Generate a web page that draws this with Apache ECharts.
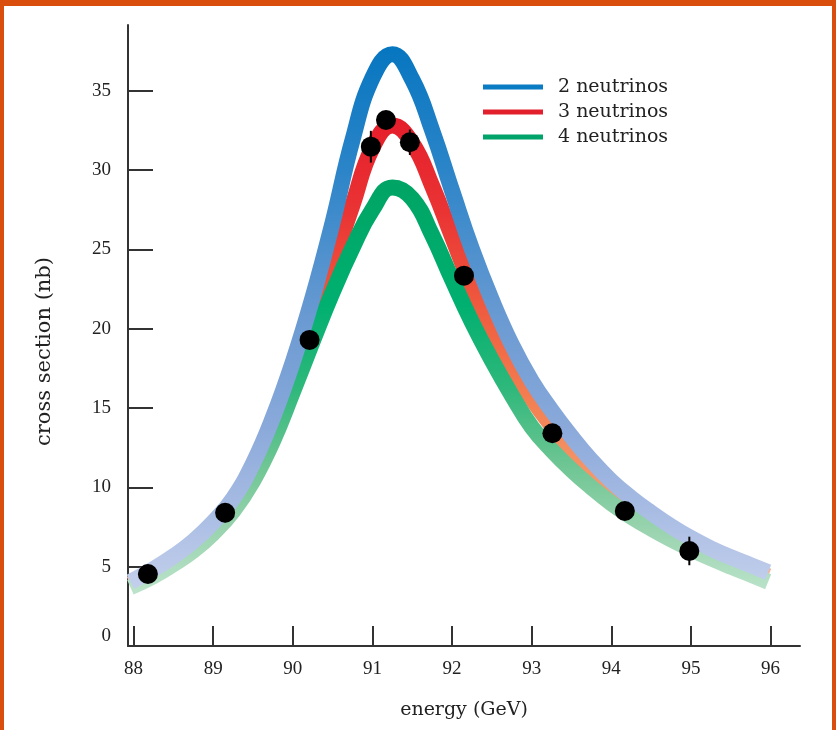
<!DOCTYPE html>
<html>
<head>
<meta charset="utf-8">
<title>Z resonance and number of neutrinos</title>
<script src="https://cdn.jsdelivr.net/npm/echarts@6/dist/echarts.min.js"></script>
<style>
  html, body { margin: 0; padding: 0; }
  body { width: 836px; height: 730px; background: #d94e0c; position: relative; overflow: hidden; }
  .paper { position: absolute; left: 4px; top: 6px; right: 4px; bottom: 0; background: #fff; }
  #chart { position: absolute; left: 0; top: 0; width: 836px; height: 730px; }
</style>
</head>
<body>
<div class="paper"></div>
<div id="chart"></div>
<script>
const energy = [87.96, 88.25, 88.5, 88.75, 89.0, 89.25, 89.5, 89.75, 90.0, 90.25, 90.5, 90.75, 91.0,
  91.25, 91.5, 91.75, 92.0, 92.25, 92.5, 92.75, 93.0, 93.25, 93.5, 93.75, 94.0, 94.25, 94.5,
  94.75, 95.0, 95.25, 95.5, 95.75, 95.97]
// cross section (nb) for each hypothesis
const nu2 = [4.05, 4.85, 5.65, 6.6, 7.8, 9.3, 11.5, 14.4, 17.9, 22.0, 26.7, 31.9, 35.8,
  37.3, 35.7, 32.5, 28.7, 25.0, 21.8, 19.0, 16.7, 14.85, 13.2, 11.7, 10.4, 9.33, 8.4,
  7.55, 6.8, 6.15, 5.6, 5.1, 4.65]
const nu3 = [3.9, 4.7, 5.5, 6.4, 7.5, 9.0, 11.0, 13.7, 17.0, 20.5, 24.1, 27.8, 31.4,
  32.8, 31.7, 29.0, 25.8, 22.6, 19.9, 17.6, 15.6, 13.9, 12.4, 11.05, 9.9, 8.9, 8.0,
  7.2, 6.5, 5.9, 5.35, 4.85, 4.4]
const nu4 = [3.7, 4.4, 5.15, 6.0, 7.1, 8.5, 10.4, 12.9, 16.0, 19.2, 22.3, 25.1, 27.5,
  28.9, 28.2, 25.9, 23.1, 20.4, 18.0, 15.8, 13.8, 12.35, 11.1, 10.0, 9.0, 8.15, 7.4,
  6.72, 6.1, 5.53, 5.0, 4.5, 4.05]

// measured points
const pointEnergy = [88.18, 89.15, 90.21, 90.98, 91.17, 91.47, 92.15, 93.26, 94.17, 94.98]
const pointSigma = [4.54, 8.40, 19.29, 31.47, 33.15, 31.75, 23.34, 13.41, 8.51, 5.99]
const pointError = [0.5, 0.6, 0.5, 1.0, 0.5, 0.8, 0.5, 0.5, 0.4, 0.9]

const xTicks = [88, 89, 90, 91, 92, 93, 94, 95, 96]
const yTicks = [0, 5, 10, 15, 20, 25, 30, 35]

const serif = 'Liberation Serif'
const wideSerif = 'DejaVu Serif'

function grad(stops) {
  return new echarts.graphic.LinearGradient(0, 0, 0, 1,
    stops.map(s => ({offset: s[0], color: s[1]})))
}

function band(name, values, stops, z) {
  return {
    name: name,
    type: 'line',
    data: energy.map((e, i) => [e, values[i]]),
    smooth: 0.45,
    symbol: 'none',
    z: z,
    lineStyle: {width: 16, color: grad(stops), cap: 'butt'}
  }
}

const chart = echarts.init(document.getElementById('chart'))

chart.setOption({
  animation: false,
  grid: {left: 128, right: 36, top: 25, bottom: 84, containLabel: false},
  legend: {
    orient: 'vertical',
    left: 483,
    top: 77,
    padding: 0,
    itemWidth: 60,
    itemHeight: 5,
    itemGap: 5,
    icon: 'rect',
    textStyle: {fontFamily: wideSerif, fontSize: 19, color: '#222', lineHeight: 20, padding: [0, 0, 0, 10]},
    data: [
      {name: '2 neutrinos', itemStyle: {color: '#0a7cc4'}},
      {name: '3 neutrinos', itemStyle: {color: '#e2202c'}},
      {name: '4 neutrinos', itemStyle: {color: '#00a46a'}}
    ]
  },
  xAxis: {
    type: 'value',
    min: 87.93,
    max: 96.37,
    name: 'energy (GeV)',
    nameLocation: 'middle',
    nameGap: 55,
    nameTextStyle: {fontFamily: wideSerif, fontSize: 19, color: '#222'},
    axisLine: {lineStyle: {color: '#333', width: 2}},
    axisTick: {inside: true, length: 20, customValues: xTicks, lineStyle: {color: '#333', width: 2}},
    axisLabel: {customValues: xTicks, margin: 14, fontFamily: serif, fontSize: 19, color: '#222'},
    splitLine: {show: false}
  },
  yAxis: {
    type: 'value',
    min: 0,
    max: 39.14,
    name: 'cross section (nb)',
    nameLocation: 'middle',
    nameGap: 73,
    nameTextStyle: {fontFamily: wideSerif, fontSize: 21, color: '#222', padding: [0, 32, 0, 0]},
    axisLine: {show: true, lineStyle: {color: '#333', width: 2}},
    axisTick: {show: true, inside: true, length: 25, customValues: yTicks, lineStyle: {color: '#333', width: 2}},
    axisLabel: {
      customValues: yTicks,
      margin: 17,
      fontFamily: serif,
      fontSize: 19,
      color: '#222',
      formatter: v => v === 0 ? '{z|0}' : String(v),
      rich: {z: {fontFamily: serif, fontSize: 19, color: '#222', padding: [0, 0, 20, 0]}}
    },
    splitLine: {show: false}
  },
  series: [
    band('3 neutrinos', nu3, [[0, '#e51d2b'], [0.2, '#ea3434'], [0.4, '#ef5b3f'], [0.6, '#f38052'], [0.8, '#f59c70'], [1, '#f7b89b']], 2),
    band('4 neutrinos', nu4, [[0, '#00a464'], [0.3, '#00b070'], [0.5, '#2eb87b'], [0.68, '#6cc592'], [0.85, '#9bd4b0'], [1, '#bde4cb']], 3),
    band('2 neutrinos', nu2, [[0, '#0676c0'], [0.22, '#2a84c8'], [0.5, '#6a9ad2'], [0.7, '#8aa9da'], [0.87, '#abbee4'], [1, '#c4d0ec']], 4),
    {
      name: 'errors',
      type: 'custom',
      z: 5,
      data: pointEnergy.map((e, i) => [e, pointSigma[i], pointError[i]]),
      renderItem: function (params, api) {
        const top = api.coord([api.value(0), api.value(1) + api.value(2)])
        const bot = api.coord([api.value(0), api.value(1) - api.value(2)])
        return {
          type: 'line',
          shape: {x1: top[0], y1: top[1], x2: bot[0], y2: bot[1]},
          style: {stroke: '#000', lineWidth: 2}
        }
      }
    },
    {
      name: 'data',
      type: 'scatter',
      z: 6,
      symbol: 'circle',
      symbolSize: 20,
      itemStyle: {color: '#000', opacity: 1},
      data: pointEnergy.map((e, i) => [e, pointSigma[i]])
    }
  ]
})
</script>
</body>
</html>
